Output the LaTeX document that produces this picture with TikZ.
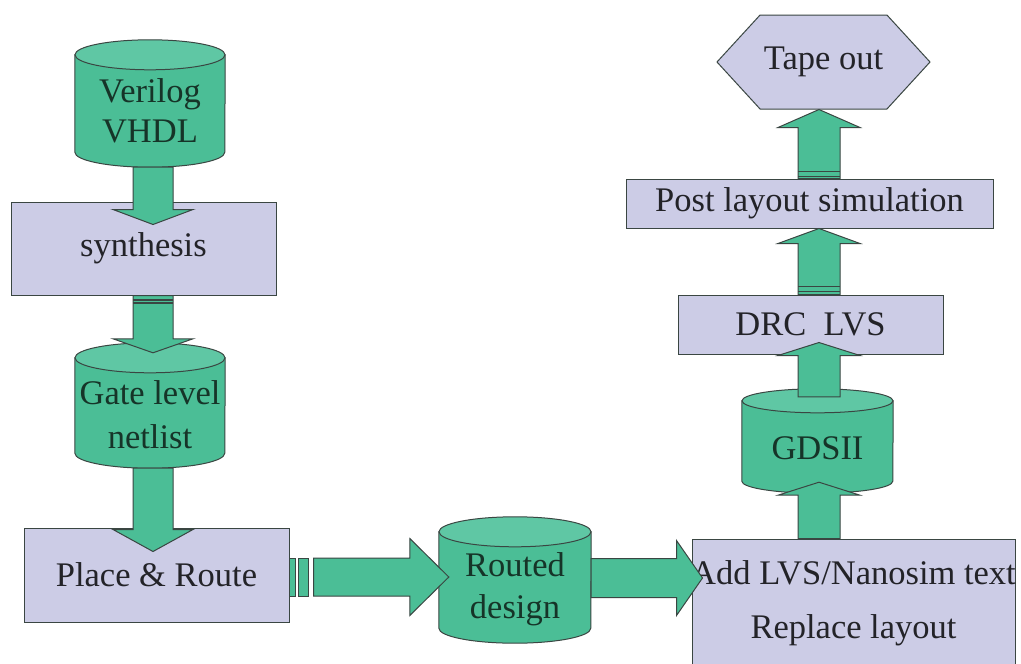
\documentclass[tikz,border=0pt]{standalone}
\usepackage{fontspec}
\setmainfont{Liberation Serif}
\usetikzlibrary{shapes.symbols,calc}

\definecolor{dbgreen}{RGB}{75,190,150}
\definecolor{dbtop}{RGB}{95,199,164}
\definecolor{stepfill}{RGB}{204,204,230}
\definecolor{edge}{RGB}{58,70,66}
\definecolor{ink}{RGB}{35,35,40}
\definecolor{dbink}{RGB}{22,52,40}

\pgfdeclarelayer{paper}
\pgfdeclarelayer{drums}
\pgfsetlayers{paper,drums,main}

% Block arrow: start, tip, shaft half-width, head half-width, head length (pt)
\newcommand\fatarrow[5]{%
  \coordinate (fa-base) at ($(#2)!#5pt!(#1)$);
  \filldraw[flowarrow]
    ($(#1)!#3pt!90:(#2)$) -- ($(fa-base)!#3pt!90:(#2)$) --
    ($(fa-base)!#4pt!90:(#2)$) -- (#2) --
    ($(fa-base)!#4pt!-90:(#2)$) -- ($(fa-base)!#3pt!-90:(#2)$) --
    ($(#1)!#3pt!-90:(#2)$) -- cycle;
}

% Database drum round a node: node, half width, end radius (pt)
\newcommand\drum[3]{%
  \filldraw[drumbody] ($(#1.north west)+(0,#3)$) -- ($(#1.south west)+(0,-#3)$)
    arc[start angle=180, end angle=360, x radius=#2pt, y radius=#3pt]
    -- ($(#1.north east)+(0,#3)$) -- cycle;
  \filldraw[drumtop] ($(#1.north)+(0,#3)$) ellipse [x radius=#2pt, y radius=#3pt];
}

\begin{document}
\begin{tikzpicture}[x=1pt,y=-1pt,
  every node/.style={font=\fontsize{34.5}{40}\selectfont},
  stepbox/.style={rectangle, draw=edge, fill=stepfill, line width=1pt,
    text=ink, inner sep=0pt},
  store/.style={rectangle, inner sep=0pt},
  storetext/.style={text=dbink, align=center},
  boxtext/.style={text=ink, align=center},
  drumbody/.style={fill=dbgreen, draw=edge, line width=1pt},
  drumtop/.style={fill=dbtop, draw=edge, line width=1pt},
  endbox/.style={signal, signal to=east and west, signal pointer angle=95,
    draw=edge, fill=stepfill, line width=1pt, text=ink, inner sep=0pt},
  flowarrow/.style={fill=dbgreen, draw=edge, line width=1pt, line join=miter},
  stripe/.style={draw=edge, line width=1.2pt}]

\useasboundingbox (0,0) rectangle (1021,664);
\clip (0,0) rectangle (1021,664);
\begin{pgfonlayer}{paper}
  \fill[white] (0,0) rectangle (1021,664);
\end{pgfonlayer}

% left column
\node[store, minimum width=150pt, minimum height=127pt,
  label={[storetext, yshift=-7pt]center:{Verilog\\VHDL}}] (verilog) at (150,103.5) {};
\node[stepbox, minimum width=265pt, minimum height=93pt] (synth) at (143.5,248.5) {synthesis};
\node[store, minimum width=150pt, minimum height=125pt,
  label={[storetext, yshift=-9pt]center:{Gate level\\[4pt]netlist}}] (gate) at (150,405.5) {};
\node[stepbox, minimum width=265pt, minimum height=94pt] (pr) at (156.5,575) {Place \& Route};

% bottom middle
\node[store, minimum width=152pt, minimum height=126pt,
  label={[storetext, yshift=-9pt]center:{Routed\\[2pt]design}}] (routed) at (515,580) {};

% right column
\node[stepbox, minimum width=323pt, minimum height=131pt,
  label={[boxtext, yshift=1.5pt]center:{Add LVS/Nanosim text\\[14pt]Replace layout}}] (add) at (853.5,604.5) {};
\node[store, minimum width=151pt, minimum height=104pt,
  label={[storetext, yshift=-7pt]center:{GDSII}}] (gds) at (817.5,441) {};
\node[stepbox, minimum width=265pt, minimum height=59pt] (drc) at (810.5,324.5) {DRC\ \ LVS};
\node[stepbox, minimum width=367pt, minimum height=49pt] (post) at (809.5,203.5) {Post layout simulation};
\node[endbox, minimum width=213pt, minimum height=94pt] (tape) at (823.5,62) {Tape out};

% drum outlines behind the database labels
\begin{pgfonlayer}{drums}
  \drum{verilog}{75}{15}
  \drum{gate}{75}{15}
  \drum{routed}{76}{15}
  \drum{gds}{75.5}{12}
\end{pgfonlayer}

% arrow axes
\coordinate (lcol) at (153,0);
\coordinate (rcol) at (819,0);

% synthesis flow (down the left)
\coordinate (a1s) at (verilog.south -| lcol);
\coordinate (a1t) at ($(synth.north -| lcol)+(0,23)$);
\fatarrow{a1s}{a1t}{20}{40}{15}

\coordinate (a2s) at (synth.south -| lcol);
\coordinate (a2t) at ($(gate.north -| lcol)+(0,10)$);
\fatarrow{a2s}{a2t}{20}{40}{14}
\draw[stripe] ($(a2s)+(-20,4.5)$) -- ($(a2s)+(20,4.5)$);
\draw[stripe] ($(a2s)+(-20,7.5)$) -- ($(a2s)+(20,7.5)$);

\coordinate (a3s) at (gate.south -| lcol);
\coordinate (a3t) at ($(pr.north -| lcol)+(0,24)$);
\fatarrow{a3s}{a3t}{20}{40}{22}

% layout flow (across the bottom)
\filldraw[flowarrow] ($(pr.east)+(0,-17)$) rectangle ($(pr.east)+(6,21)$);
\filldraw[flowarrow] ($(pr.east)+(9,-17)$) rectangle ($(pr.east)+(19,21)$);
\coordinate (a4s) at ($(pr.east)+(24,2)$);
\coordinate (a4t) at ($(routed.west |- a4s)+(10,0)$);
\fatarrow{a4s}{a4t}{19}{38.5}{39}

\coordinate (a5s) at ($(routed.east)+(0,-2)$);
\coordinate (a5t) at ($(add.west |- a5s)+(11,0)$);
\fatarrow{a5s}{a5t}{19.5}{37.5}{26}

% sign-off flow (up the right)
\coordinate (a6s) at (add.north -| rcol);
\coordinate (a6t) at ($(gds.south -| rcol)+(0,-11)$);
\fatarrow{a6s}{a6t}{21}{41}{13}

\coordinate (a7s) at ($(gds.north -| rcol)+(0,8)$);
\coordinate (a7t) at ($(drc.south -| rcol)+(0,-12)$);
\fatarrow{a7s}{a7t}{21}{41}{13}

\coordinate (a8s) at (drc.north -| rcol);
\coordinate (a8t) at (post.south -| rcol);
\fatarrow{a8s}{a8t}{21}{41}{15}
\draw[stripe] ($(a8s)+(-21,-3)$) -- ($(a8s)+(21,-3)$);
\draw[stripe] ($(a8s)+(-21,-8)$) -- ($(a8s)+(21,-8)$);

\coordinate (a9s) at (post.north -| rcol);
\coordinate (a9t) at (tape.south -| rcol);
\fatarrow{a9s}{a9t}{21}{41}{18}
\draw[stripe] ($(a9s)+(-21,-2)$) -- ($(a9s)+(21,-2)$);
\draw[stripe] ($(a9s)+(-21,-7)$) -- ($(a9s)+(21,-7)$);

\end{tikzpicture}
\end{document}
